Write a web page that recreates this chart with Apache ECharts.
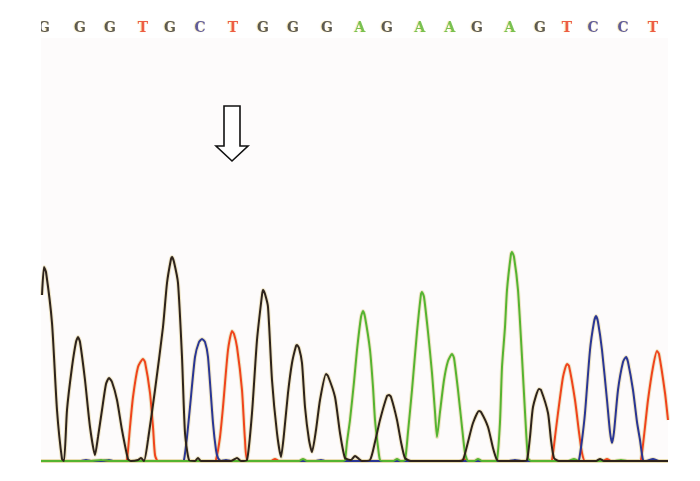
<!DOCTYPE html>
<html>
<head>
<meta charset="utf-8">
<script src="https://cdn.jsdelivr.net/npm/echarts@6/dist/echarts.min.js"></script>
<style>html,body{margin:0;padding:0;background:#fff}#c{width:700px;height:481px}</style>
</head>
<body>
<div id="c"></div>
<script>
// Base calls (letters) and their scan positions
const baseLetters = ['G','G','G','T','G','C','T','G','G','G','A','G','A','A','G','A','G','T','C','C','T'];
const basePositions = [3,39,69,102,129,159,192,222,252,286,319,346,379,409,436,469,499,526,552,582,612];

// Trace signal [scan, intensity]
const traceG = [[1,167],[3,195],[5,190],[11,139],[16,52],[21,3],[23,1],[26,52],[31,95],[35,120],[37,125],[39,120],[44,82],[49,35],[54,7],[57,25],[61,52],[65,78],[68,84],[71,80],[76,62],[81,32],[87,3],[90,1],[97,2],[100,4],[103,1],[107,22],[114,72],[122,135],[126,179],[130,203],[131,205],[133,200],[137,179],[141,105],[144,29],[148,2],[154,1],[157,4],[160,1],[190,1],[196,4],[200,1],[206,2],[211,49],[216,122],[221,167],[222,172],[224,168],[227,155],[231,82],[236,29],[240,5],[243,28],[247,69],[251,99],[255,116],[256,117],[258,114],[261,99],[264,55],[268,22],[271,10],[275,32],[279,62],[285,88],[287,86],[294,65],[299,29],[304,4],[310,2],[314,6],[318,3],[321,1],[329,2],[334,20],[339,42],[346,66],[348,67],[350,65],[356,42],[360,20],[364,4],[370,1],[418,1],[422,2],[427,20],[432,39],[438,51],[440,50],[447,35],[452,14],[456,2],[460,1],[482,1],[486,2],[489,25],[492,55],[498,73],[500,72],[507,49],[510,22],[513,4],[518,1],[555,1],[559,3],[563,1],[627,1]];
const traceT = [[0,1],[84,1],[86,2],[89,35],[92,65],[97,95],[102,103],[104,100],[109,69],[112,35],[114,7],[117,1],[173,1],[175,2],[179,25],[182,55],[187,112],[191,131],[193,128],[196,115],[201,72],[204,22],[207,1],[230,1],[234,3],[238,1],[266,1],[300,1],[420,1],[423,3],[426,1],[509,1],[511,2],[514,25],[517,49],[522,85],[526,98],[528,96],[534,62],[538,30],[541,9],[544,1],[562,1],[566,3],[570,1],[598,1],[600,2],[604,35],[607,62],[612,95],[616,111],[618,108],[624,69],[627,42]];
const traceC = [[0,1],[40,1],[45,2],[50,1],[62,1],[68,2],[72,1],[141,1],[143,2],[146,25],[149,55],[154,105],[158,120],[161,123],[164,120],[167,105],[172,39],[175,12],[177,4],[180,1],[185,2],[190,1],[275,1],[280,2],[284,1],[468,1],[474,2],[480,1],[536,1],[538,2],[541,22],[544,49],[549,112],[553,140],[555,146],[557,140],[561,112],[566,62],[569,30],[571,19],[573,30],[577,72],[582,100],[585,105],[587,100],[592,72],[596,40],[599,22],[602,2],[605,1],[612,3],[618,1],[627,1]];
const traceA = [[0,1],[50,1],[60,2],[70,1],[235,1],[258,1],[262,3],[266,1],[302,1],[304,2],[306,20],[309,42],[313,80],[316,112],[320,145],[322,151],[324,145],[329,112],[332,75],[334,42],[337,15],[339,2],[342,1],[352,1],[356,3],[360,1],[364,2],[367,30],[371,72],[376,130],[380,168],[381,170],[383,165],[387,130],[391,89],[394,50],[396,25],[399,50],[403,82],[407,101],[411,108],[413,104],[417,72],[421,35],[424,9],[427,1],[433,1],[437,3],[441,1],[453,1],[456,2],[459,40],[461,95],[464,135],[466,172],[470,208],[471,210],[473,205],[477,172],[481,105],[484,50],[487,4],[490,1],[512,1],[527,1],[533,3],[538,1],[574,1],[580,2],[586,1],[627,1]];

const traces = [
  {name:'T', data:traceT, color:'#f0441c'},
  {name:'C', data:traceC, color:'#2a3694'},
  {name:'A', data:traceA, color:'#55b431'},
  {name:'G', data:traceG, color:'#2e231b'}
];
const letterColors = {G:'#363636', A:'#5ab634', T:'#ea3a26', C:'#3a3890'};

const chart = echarts.init(document.getElementById('c'));
const series = [];
traces.forEach(t => {
  series.push({type:'line', data:t.data, smooth:0.2, symbol:'none', silent:true,
    lineStyle:{color:'#e8dcb0', width:4, opacity:0.7}, z:1});
  series.push({type:'line', data:t.data, smooth:0.2, symbol:'none', silent:true,
    lineStyle:{color:t.color, width:2}, z:2});
});
series.push({
  type:'scatter', clip:false, symbolSize:0, silent:true, z:5,
  data: baseLetters.map((b,i)=>({value:[basePositions[i], 434], name:b, label:{color:letterColors[b]}})),
  label:{show:true, position:'inside', formatter:p=>p.name,
    fontFamily:'DejaVu Serif', fontWeight:'bold', fontSize:14,
    textShadowColor:'rgba(235,190,50,0.55)', textShadowBlur:1, textShadowOffsetX:-1}
});

chart.setOption({
  animation:false,
  backgroundColor:'#ffffff',
  grid:{left:41, right:32, top:38, bottom:19, show:true, backgroundColor:'#fdfbfb', borderWidth:0},
  xAxis:{type:'value', min:0, max:627, show:false},
  yAxis:{type:'value', min:0, max:424, show:false},
  series:series,
  graphic:[
    {type:'rect', shape:{x:0,y:14,width:41,height:26}, style:{fill:'#ffffff'}, z:100},
    {type:'polygon', z:100, shape:{points:[[224,106],[240,106],[240,146],[248,146],[232,161],[216,146],[224,146]]},
      style:{fill:'#ffffff', stroke:'#111', lineWidth:1.6}}
  ]
});
</script>
</body>
</html>
